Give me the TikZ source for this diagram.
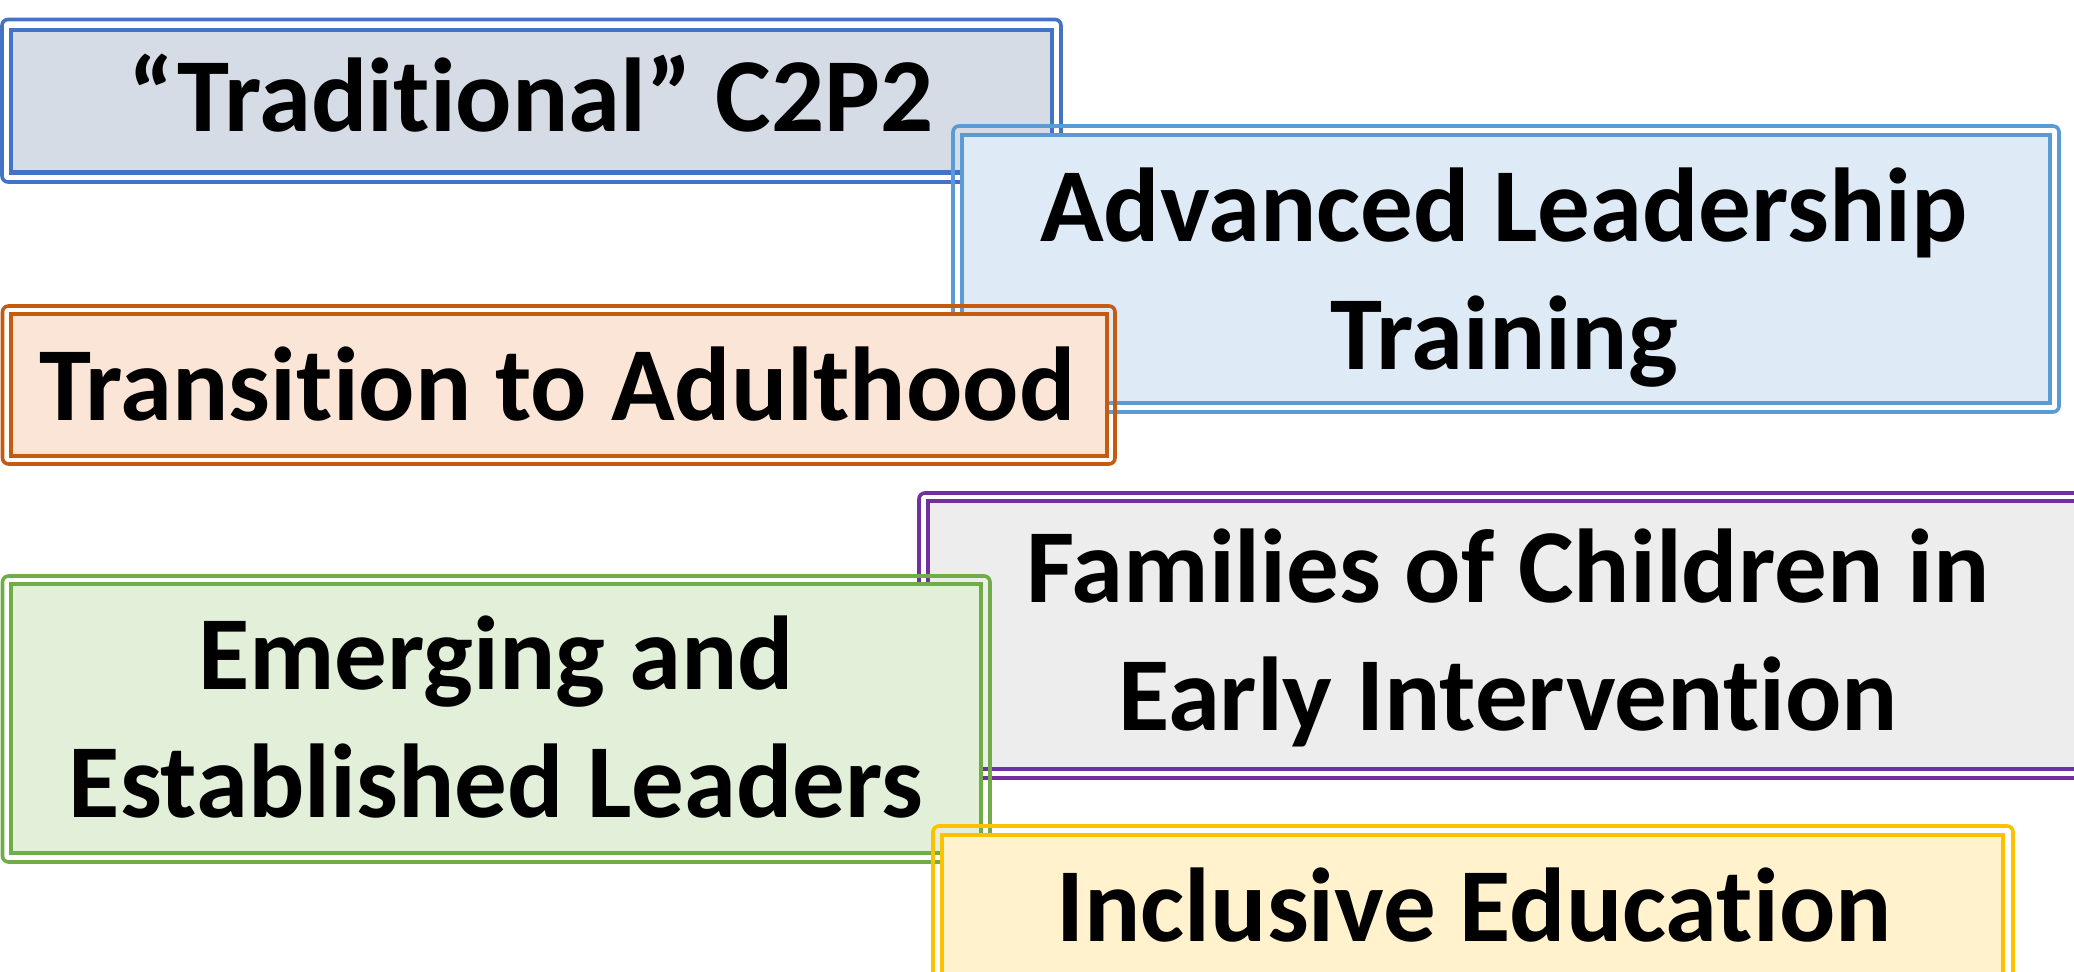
\documentclass[tikz,border=0pt]{standalone}
\usepackage{fontspec}
\setmainfont{Carlito}[RawFeature={-liga}]
\definecolor{bTrad}{HTML}{4472C4}\definecolor{fTrad}{HTML}{D6DCE5}
\definecolor{bAdv}{HTML}{5B9BD5}\definecolor{fAdv}{HTML}{DEEBF7}
\definecolor{bTra}{HTML}{C55A11}\definecolor{fTra}{HTML}{FBE5D6}
\definecolor{bFam}{HTML}{7030A0}\definecolor{fFam}{HTML}{EDEDED}
\definecolor{bEme}{HTML}{70AD47}\definecolor{fEme}{HTML}{E2F0D9}
\definecolor{bInc}{HTML}{FFC000}\definecolor{fInc}{HTML}{FFF2CC}
\begin{document}
\begin{tikzpicture}[x=0.5pt,y=-0.5pt,
  outerbox/.style={line width=1.8pt, rounded corners=3pt},
  innerbox/.style={line width=2.4pt},
  lbl/.style={font=\fontsize{52.5}{64}\selectfont\bfseries, align=center, inner sep=0pt, anchor=base}]
\useasboundingbox (0,0) rectangle (2074,972);
\clip (0,0) rectangle (2074,972);
% Traditional
\draw[outerbox, draw=bTrad] (2,19.5) rectangle (1061,182);
\draw[innerbox, draw=bTrad, fill=fTrad] (11,30) rectangle (1052,172.5);
\node[lbl] (t1) at (531,132) {“Traditional” C2P2};
% Advanced
\draw[outerbox, draw=bAdv] (953,126) rectangle (2059,412);
\draw[innerbox, draw=bAdv, fill=fAdv] (962,135) rectangle (2050,403);
\node[lbl] (t2) at (1504,370) {Advanced Leadership\\Training};
% Transition
\draw[outerbox, draw=bTra] (2.5,306) rectangle (1115,464);
\draw[innerbox, draw=bTra, fill=fTra] (11,314) rectangle (1107,456);
\node[lbl] (t3) at (557,421) {Transition to Adulthood};
% Families
\draw[outerbox, draw=bFam] (919,493) rectangle (2100,778);
\draw[innerbox, draw=bFam, fill=fFam] (928,501) rectangle (2090,769);
\node[lbl] (t4) at (1508,731) {Families of Children in\\Early Intervention};
% Emerging
\draw[outerbox, draw=bEme] (2.5,576) rectangle (990,862);
\draw[innerbox, draw=bEme, fill=fEme] (11,584) rectangle (981,853);
\node[lbl] (t5) at (496,818) {Emerging and\\Established Leaders};
% Inclusive
\draw[outerbox, draw=bInc] (933,826) rectangle (2013,1010);
\draw[innerbox, draw=bInc, fill=fInc] (942,835) rectangle (2003,1000);
\node[lbl] (t6) at (1474,942) {Inclusive Education};
\end{tikzpicture}
\end{document}
